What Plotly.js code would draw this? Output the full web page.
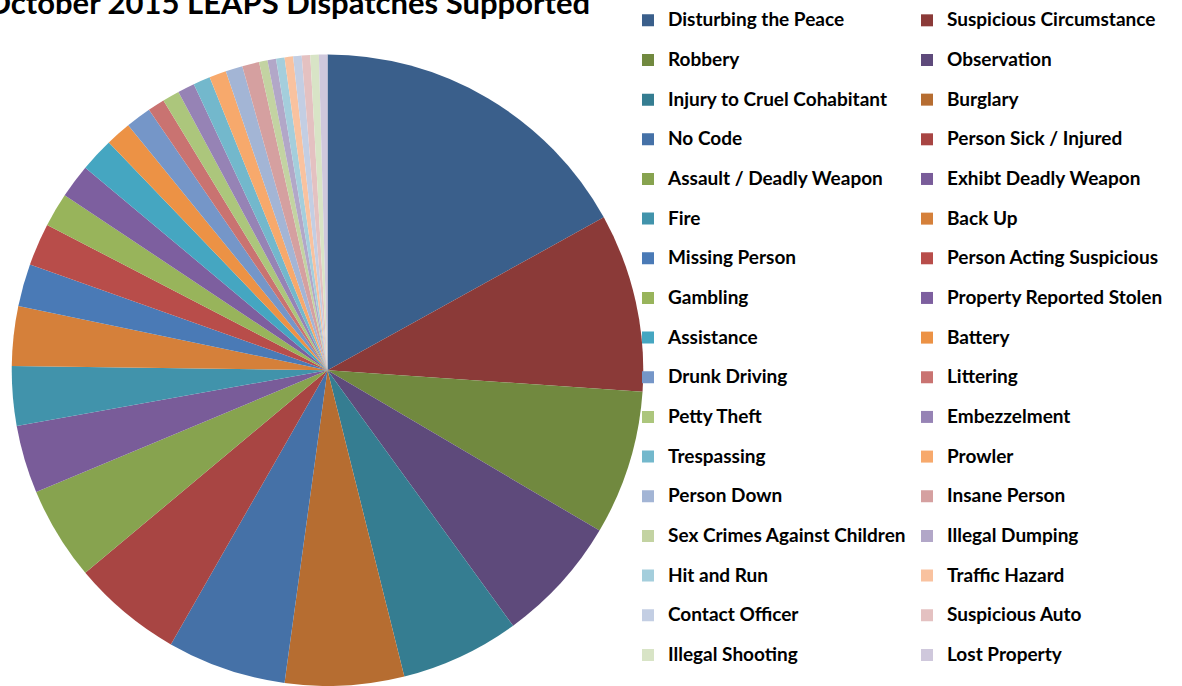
<!DOCTYPE html>
<html>
<head>
<meta charset="utf-8">
<script src="https://cdn.plot.ly/plotly-3.0.1.min.js"></script>
<style>html,body{margin:0;padding:0;background:#fff;}#chart{width:1182px;height:686px;}</style>
</head>
<body>
<div id="chart"></div>
<script>
var categories = [
  "Disturbing the Peace", "Suspicious Circumstance", "Robbery", "Observation",
  "Injury to Cruel Cohabitant", "Burglary", "No Code", "Person Sick / Injured",
  "Assault / Deadly Weapon", "Exhibt Deadly Weapon", "Fire", "Back Up",
  "Missing Person", "Person Acting Suspicious", "Gambling", "Property Reported Stolen",
  "Assistance", "Battery", "Drunk Driving", "Littering",
  "Petty Theft", "Embezzelment", "Trespassing", "Prowler",
  "Person Down", "Insane Person", "Sex Crimes Against Children", "Illegal Dumping",
  "Hit and Run", "Traffic Hazard", "Contact Officer", "Suspicious Auto",
  "Illegal Shooting", "Lost Property"
];
var dispatches = [
  39, 21, 17, 15,
  14, 14, 14, 13,
  11, 8, 7, 7,
  5, 5, 4, 4,
  4, 3, 3, 2,
  2, 2, 2, 2,
  2, 2, 1, 1,
  1, 1, 1, 1,
  1, 1
];
var sliceColors = [
  "#3A5F8B", "#8B3A38", "#71893F", "#5E4A7B",
  "#357D91", "#B66D31", "#4571A7", "#A84543",
  "#87A34F", "#795C99", "#4193AB", "#D5803A",
  "#4A7AB6", "#B84D4A", "#98B45B", "#7D5F9F",
  "#45A6C1", "#EC9245", "#7596C8", "#C97371",
  "#ACC67C", "#9683B5", "#73B8CC", "#F7A96C",
  "#A3B5D5", "#D5A0A0", "#C3D3A2", "#B2A7C8",
  "#A4CEDC", "#F9C29F", "#C3CEE3", "#E4C1C1",
  "#D8E4C6", "#CFC8DC"
];
var chartTitle = "October 2015 LEAPS Dispatches Supported";

var legendLabels = categories.map(function (c) {
  return '<span style="font-size:19px;baseline-shift:5px">' + c + '</span>';
});

var trace = {
  type: "pie",
  labels: legendLabels,
  values: dispatches,
  sort: false,
  direction: "clockwise",
  rotation: 0,
  textinfo: "none",
  hoverinfo: "label+value+percent",
  marker: { colors: sliceColors, line: { width: 0 } },
  domain: { x: [0.0155, 1.0], y: [0, 0.9206] }
};

var layout = {
  width: 1182,
  height: 686,
  margin: { l: 0, r: 537, t: 0, b: 0, pad: 0, autoexpand: false },
  paper_bgcolor: "#ffffff",
  plot_bgcolor: "#ffffff",
  title: {
    text: chartTitle,
    font: { family: "Lato", size: 31, weight: 700, color: "#000000" },
    xref: "container", yref: "container",
    x: 0.4992, xanchor: "right",
    y: 0.9961, yanchor: "middle",
    pad: { t: 0, b: 0, l: 0, r: 0 }
  },
  showlegend: true,
  legend: {
    orientation: "h",
    x: 0.97364, xanchor: "left",
    y: 0.5073, yanchor: "middle",
    maxheight: 686,
    entrywidth: 234,
    entrywidthmode: "pixels",
    font: { family: "Lato", size: 28.2, weight: 700, color: "#000000" },
    bgcolor: "rgba(0,0,0,0)",
    borderwidth: 0,
    traceorder: "normal"
  }
};

Plotly.newPlot("chart", [trace], layout, { displayModeBar: false, staticPlot: true });
</script>
</body>
</html>
